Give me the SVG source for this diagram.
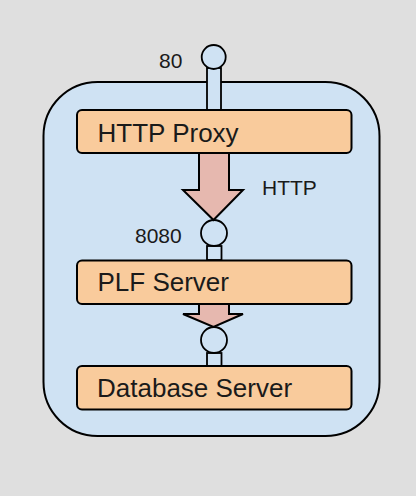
<svg xmlns="http://www.w3.org/2000/svg" width="416" height="496" viewBox="0 0 416 496">
<style>
.bg{fill:#dfdfdf}
.container{fill:#cfe2f3;stroke:#000;stroke-width:2}
.box{fill:#f9cb9c;stroke:#000;stroke-width:2}
.arrow{fill:#e6b8af;stroke:#000;stroke-width:2;stroke-linejoin:miter}
.port{fill:#cfe2f3;stroke:#000;stroke-width:1.8}
.t{font-family:"Liberation Sans",Arial,sans-serif;fill:#1a1a1a}
.big{font-size:26px}
.small{font-size:21px}
</style>
<rect class="bg" x="0" y="0" width="416" height="496"/>
<g id="container">
<rect class="container" x="43.5" y="82" width="336" height="354" rx="54" ry="54"/>
</g>
<g id="port-80">
<rect class="port" x="207" y="68" width="14" height="42"/>
<circle class="port" cx="213.7" cy="57" r="12"/>
<text class="t small" x="159" y="68">80</text>
</g>
<g id="http-proxy">
<rect class="box" x="77" y="110" width="274.5" height="43" rx="5" ry="5"/>
<text class="t big" x="97.5" y="141.5">HTTP Proxy</text>
</g>
<g id="port-8080">
<rect class="port" x="207" y="246" width="14.5" height="14"/>
<circle class="port" cx="214" cy="233" r="13"/>
<text class="t small" x="135" y="242.5">8080</text>
</g>
<g id="plf-server">
<rect class="box" x="77" y="260.5" width="274.5" height="43.5" rx="5" ry="5"/>
<text class="t big" x="97.5" y="290.7">PLF Server</text>
</g>
<g id="port-db">
<rect class="port" x="207" y="353" width="14.5" height="13"/>
<circle class="port" cx="214" cy="340" r="13"/>
</g>
<g id="database-server">
<rect class="box" x="77" y="366" width="274.5" height="43.5" rx="5" ry="5"/>
<text class="t big" x="97" y="397">Database Server</text>
</g>
<g id="connectors">
<polygon class="arrow" points="199,153 229,153 229,190 243,190 213.5,220 183,190 199,190"/>
<text class="t small" x="262" y="195">HTTP</text>
<polygon class="arrow" points="199,304 229,304 229,314 243,314 213.5,327 183,314 199,314"/>
</g>
</svg>
